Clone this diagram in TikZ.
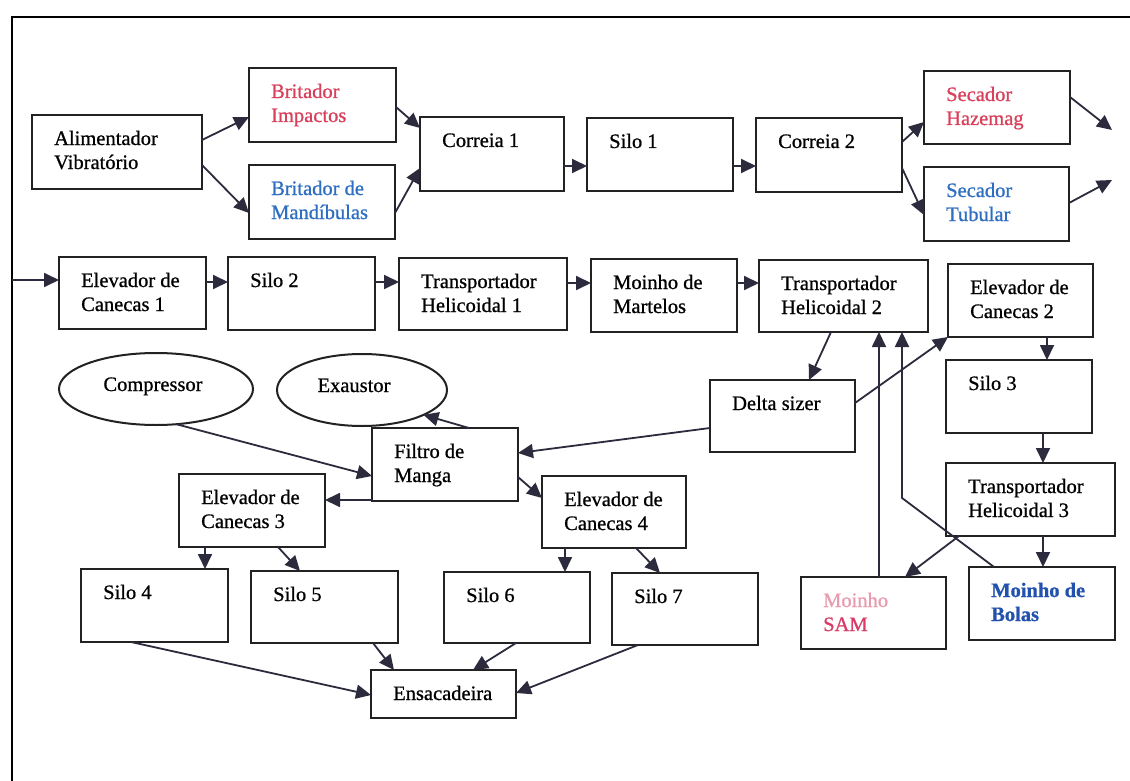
\documentclass[tikz,border=0pt]{standalone}
\usepackage{fontspec}
\setmainfont{Liberation Serif}[RawFeature={embolden=0.8}]
\usetikzlibrary{arrows.meta,calc,fit,shapes.geometric}
\definecolor{redt}{HTML}{D8405C}
\definecolor{bluet}{HTML}{2E6FC2}
\definecolor{pinkt}{HTML}{E99AAE}
\definecolor{samred}{HTML}{D93A66}
\definecolor{bolasb}{HTML}{2352AE}
\definecolor{linec}{HTML}{222222}
\definecolor{arrc}{HTML}{2B2B3D}
\newcommand\boxlabel[3][]{\node[txt,#1] (#2-t) at ($(#2.north west)+(22,13)$) {\strut #3};}
\begin{document}
\begin{tikzpicture}[x=1pt,y=-1pt,
  box/.style={draw=linec, line width=2pt, inner sep=0pt, outer sep=0pt, rectangle},
  oval/.style={draw=linec, line width=2pt, ellipse, inner sep=0pt, outer sep=0pt},
  txt/.style={anchor=north west, inner sep=0pt, align=left, font=\fontsize{20.5}{24}\selectfont},
  otxt/.style={anchor=base, inner sep=0pt, font=\fontsize{20.5}{24}\selectfont},
  arr/.style={draw=arrc, line width=1.8pt, -{Triangle[length=15pt,width=14pt]}},
  frameline/.style={draw=black, line width=2pt}]
\fill[white] (0,0) rectangle (1130,781);
\useasboundingbox (0,0) rectangle (1130,781);

% frame
\coordinate (ftr) at (1130,17);
\coordinate (ftl) at (12,17);
\coordinate (fbl) at (12,781);
\draw[frameline] (ftr) -- (ftl) -- (fbl);

% row 1
\node[box, fit={(32,115) (202,189)}] (alim) {};
\node[box, fit={(249,68) (396,142)}] (brimp) {};
\node[box, fit={(249,165) (395,239)}] (brmand) {};
\node[box, fit={(420,117) (564,191)}] (cor1) {};
\node[box, fit={(587,118) (733,191)}] (silo1) {};
\node[box, fit={(756,118) (902,192)}] (cor2) {};
\node[box, fit={(924,71) (1070,144)}] (sechaz) {};
\node[box, fit={(924,167) (1069,241)}] (sectub) {};
% row 2
\node[box, fit={(59,257) (206,329)}] (ec1) {};
\node[box, fit={(228,257) (375,330)}] (silo2) {};
\node[box, fit={(399,258) (567,330)}] (th1) {};
\node[box, fit={(591,259) (737,332)}] (mmart) {};
\node[box, fit={(759,260) (928,332)}] (th2) {};
\node[box, fit={(948,264) (1093,337)}] (ec2) {};
% right column
\node[box, fit={(710,380) (855,452)}] (delta) {};
\node[box, fit={(946,360) (1092,433)}] (silo3) {};
\node[box, fit={(946,463) (1115,536)}] (th3) {};
\node[box, fit={(801,577) (946,649)}] (sam) {};
\node[box, fit={(969,567) (1115,640)}] (bolas) {};
% lower left
\node[oval, minimum width=194pt, minimum height=72pt] (comp) at (156,389) {};
\node[oval, minimum width=170pt, minimum height=72pt] (exa) at (362,390) {};
\node[box, fit={(372,428) (518,501)}] (filtro) {};
\node[box, fit={(179,474) (325,547)}] (ec3) {};
\node[box, fit={(542,476) (686,548)}] (ec4) {};
\node[box, fit={(81,569) (228,642)}] (silo4) {};
\node[box, fit={(251,571) (398,643)}] (silo5) {};
\node[box, fit={(444,572) (590,643)}] (silo6) {};
\node[box, fit={(612,573) (758,645)}] (silo7) {};
\node[box, fit={(371,670) (516,718)}] (ensac) {};

% texts
\boxlabel{alim}{Alimentador\\Vibratório}
\boxlabel{brimp}{\color{redt}Britador\\\color{redt}Impactos}
\boxlabel{brmand}{\color{bluet}Britador de\\\color{bluet}Mandíbulas}
\boxlabel{cor1}{Correia 1}
\boxlabel{silo1}{Silo 1}
\boxlabel{cor2}{Correia 2}
\boxlabel{sechaz}{\color{redt}Secador\\\color{redt}Hazemag}
\boxlabel{sectub}{\color{bluet}Secador\\\color{bluet}Tubular}
\boxlabel{ec1}{Elevador de\\Canecas 1}
\boxlabel{silo2}{Silo 2}
\boxlabel{th1}{Transportador\\Helicoidal 1}
\boxlabel{mmart}{Moinho de\\Martelos}
\boxlabel{th2}{Transportador\\Helicoidal 2}
\boxlabel{ec2}{Elevador de\\Canecas 2}
\boxlabel{delta}{Delta sizer}
\boxlabel{silo3}{Silo 3}
\boxlabel{th3}{Transportador\\Helicoidal 3}
\boxlabel{sam}{\color{pinkt}Moinho\\\color{samred}SAM}
\boxlabel{bolas}{\bfseries\color{bolasb}Moinho de\\\bfseries\color{bolasb}Bolas}
\boxlabel{filtro}{Filtro de\\Manga}
\boxlabel{ec3}{Elevador de\\Canecas 3}
\boxlabel{ec4}{Elevador de\\Canecas 4}
\boxlabel{silo4}{Silo 4}
\boxlabel{silo5}{Silo 5}
\boxlabel{silo6}{Silo 6}
\boxlabel{silo7}{Silo 7}
\boxlabel{ensac}{Ensacadeira}
\node[otxt] (comp-t) at ($(comp.center)+(-3,2)$) {Compressor};
\node[otxt] (exa-t) at ($(exa.center)+(-8,2)$) {Exaustor};

% free ends
\coordinate (hazout) at (1112,130);
\coordinate (tubout) at (1112,180);
\coordinate (bend) at (902,498);

% connectors row 1
\draw[arr] (alim.east |- 0,140) -- (brimp.west |- 0,117);
\draw[arr] (alim.east |- 0,165) -- (brmand.west |- 0,213);
\draw[arr] (brimp.east |- 0,107) -- (cor1.west |- 0,128);
\draw[arr] (brmand.east |- 0,213) -- (cor1.west |- 0,168);
\draw[arr] (cor1.east |- 0,166) -- (silo1.west |- 0,166);
\draw[arr] (silo1.east |- 0,166) -- (cor2.west |- 0,166);
\draw[arr] (cor2.east |- 0,142) -- (sechaz.west |- 0,122);
\draw[arr] (cor2.east |- 0,168) -- (sectub.west |- 0,215);
\draw[arr] (sechaz.east |- 0,97) -- (hazout);
\draw[arr] (sectub.east |- 0,203) -- (tubout);
% row 2
\draw[arr] (fbl |- 0,280) -- (ec1.west |- 0,280);
\draw[arr] (ec1.east |- 0,282) -- (silo2.west |- 0,282);
\draw[arr] (silo2.east |- 0,282) -- (th1.west |- 0,282);
\draw[arr] (th1.east |- 0,283) -- (mmart.west |- 0,283);
\draw[arr] (mmart.east |- 0,283) -- (th2.west |- 0,283);
% right part
\draw[arr] (831,0 |- th2.south) -- (809,0 |- delta.north);
\draw[arr] (delta.east |- 0,403) -- (ec2.south west);
\draw[arr] (delta.west |- 0,428) -- (filtro.east |- 0,453);
\draw[arr] (879,0 |- sam.north) -- (879,0 |- th2.south);
\draw[arr] (994,0 |- bolas.north) -- (bend) -- (bend |- th2.south);
\draw[arr] (959,0 |- th3.south) -- (905,0 |- sam.north);
\draw[arr] (1047,0 |- ec2.south) -- (1047,0 |- silo3.north);
\draw[arr] (1043,0 |- silo3.south) -- (1043,0 |- th3.north);
\draw[arr] (1043,0 |- th3.south) -- (1043,0 |- bolas.north);
% lower left
\draw[arr] (comp.-60) -- (filtro.west |- 0,476);
\draw[arr] (469,0 |- filtro.north) -- (exa.-22);
\draw[arr] (filtro.west |- 0,500) -- (ec3.east |- 0,500);
\draw[arr] (filtro.east |- 0,477) -- (ec4.west |- 0,498);
\draw[arr] (205,0 |- ec3.south) -- (205,0 |- silo4.north);
\draw[arr] (278,0 |- ec3.south) -- (300,0 |- silo5.north);
\draw[arr] (565,0 |- ec4.south) -- (565,0 |- silo6.north);
\draw[arr] (636,0 |- ec4.south) -- (660,0 |- silo7.north);
\draw[arr] (131,0 |- silo4.south) -- (ensac.west |- 0,695);
\draw[arr] (373,0 |- silo5.south) -- (394,0 |- ensac.north);
\draw[arr] (516,0 |- silo6.south) -- (473,0 |- ensac.north);
\draw[arr] (638,0 |- silo7.south) -- (ensac.east |- 0,693);
\end{tikzpicture}
\end{document}
